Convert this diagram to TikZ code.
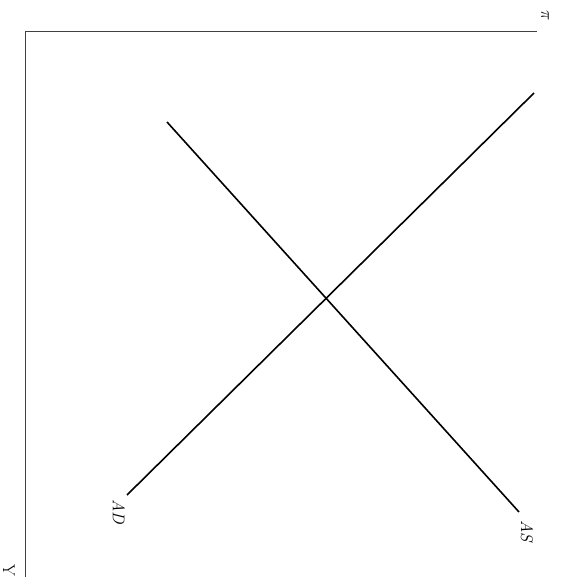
\documentclass[tikz,border=0pt]{standalone}
\usepackage{tikz}
\usetikzlibrary{positioning}
\begin{document}
\begin{tikzpicture}[x=1pt,y=1pt,
 axis/.style={draw=black!75,line width=1pt},
 curve/.style={draw=black,line width=1.6pt},
 lab/.style={rotate=-90,inner sep=1pt,font=\fontsize{17}{20}\selectfont}]
\useasboundingbox (0,0) rectangle (573,582);
\coordinate (origin) at (25,550);
\coordinate (ytop) at (25,5);
\coordinate (piend) at (537,550);
\coordinate (ad1) at (127,87); \coordinate (ad2) at (534,489);
\coordinate (as1) at (167,460); \coordinate (as2) at (519,70);
\draw[axis] (ytop) -- (origin) -- (piend);
\draw[curve] (ad1) -- (ad2);
\draw[curve] (as1) -- (as2);
\node[lab] (pilab) at (545,566) {$\pi$};
\node[lab] (ylab) at (9,12) {Y};
\node[lab] (adlab) at (119,70) {\textit{AD}};
\node[lab] (aslab) at (527,50) {\textit{AS}};
\end{tikzpicture}
\end{document}
